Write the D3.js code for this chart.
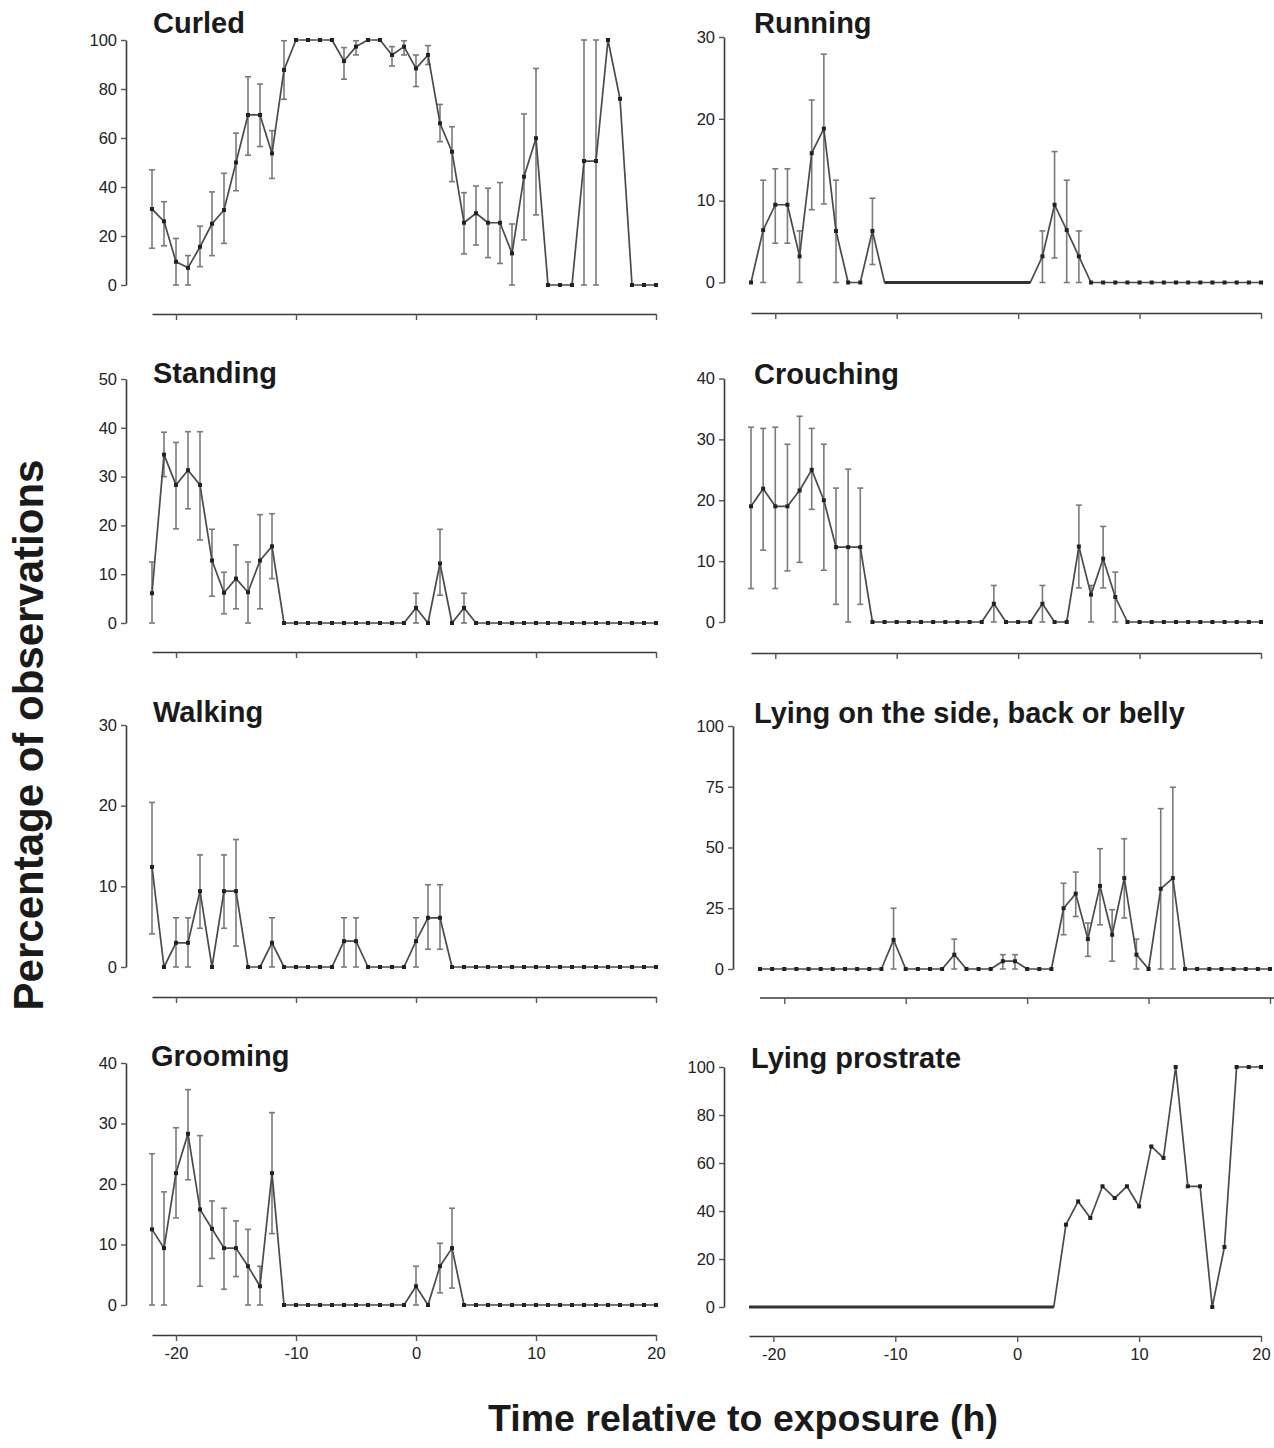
<!DOCTYPE html>
<html><head><meta charset="utf-8">
<script src="https://cdn.jsdelivr.net/npm/d3@7"></script>
<style>body{margin:0;background:#fff} svg{display:block}</style>
</head><body><svg id="c" width="1274" height="1448"></svg>
<script>
// ---- data ----
const hours = [-22,-21,-20,-19,-18,-17,-16,-15,-14,-13,-12,-11,-10,-9,-8,-7,-6,-5,-4,-3,-2,-1,0,1,2,3,4,5,6,7,8,9,10,11,12,13,14,15,16,17,18,19,20];
const xTicks = [-20,-10,0,10,20];

const curledVals = [31,26,9.5,7,15.6,25,30.6,50,69.4,69.4,53.7,87.8,100,100,100,100,91.4,97.3,100,100,93.9,97.3,88.4,93.9,66,54.4,25.4,29.3,25.4,25.4,12.9,44.2,59.9,0,0,0,50.6,50.6,100,76,0,0,0];
const curledHi = [47,34,19,12,24,38,45.6,62,85,82,63,99.7,null,null,null,null,96.9,99.7,null,null,97.3,99.7,93.9,97.7,73.7,64.6,37.7,40.4,39.5,41.8,24.9,69.8,88.4,null,null,null,100,100,null,null,null,null,null];
const curledLo = [15,16,0,0,7.5,12,17,38.5,53,56.5,43.5,75.8,null,null,null,null,84,93.9,null,null,89.4,93.9,81,90,58.5,42.2,12.7,16.3,11.2,8.8,0,18.4,28.6,null,null,null,0,0,null,null,null,null,null];

const runningVals = [0,6.4,9.5,9.5,3.2,15.8,18.8,6.3,0,0,6.3,0,0,0,0,0,0,0,0,0,0,0,0,0,3.2,9.5,6.4,3.2,0,0,0,0,0,0,0,0,0,0,0,0,0,0,0];
const runningHi = [null,12.5,13.9,13.9,6.3,22.3,27.9,12.5,null,null,10.3,null,null,null,null,null,null,null,null,null,null,null,null,null,6.3,16,12.5,6.3,null,null,null,null,null,null,null,null,null,null,null,null,null,null,null];
const runningLo = [null,0,4.8,4.8,0,8.9,9.6,0,null,null,2.2,null,null,null,null,null,null,null,null,null,null,null,null,null,0,3,0,0,null,null,null,null,null,null,null,null,null,null,null,null,null,null,null];

const standingVals = [6.1,34.5,28.3,31.3,28.3,12.8,6.2,9.1,6.3,12.8,15.7,0,0,0,0,0,0,0,0,0,0,0,3.1,0,12.2,0,3.1,0,0,0,0,0,0,0,0,0,0,0,0,0,0,0,0];
const standingHi = [12.5,39.1,37,39.2,39.2,19.2,10.4,16,12.5,22.2,22.4,null,null,null,null,null,null,null,null,null,null,null,6.1,null,19.2,null,6.1,null,null,null,null,null,null,null,null,null,null,null,null,null,null,null,null];
const standingLo = [0,30,19.3,23.4,17,5.5,1.9,2.9,0,2.9,9.1,null,null,null,null,null,null,null,null,null,null,null,0,null,5.7,null,0,null,null,null,null,null,null,null,null,null,null,null,null,null,null,null,null];

const crouchingVals = [19,21.9,19,19,21.6,25,20,12.3,12.3,12.3,0,0,0,0,0,0,0,0,0,0,3,0,0,0,3,0,0,12.4,4.5,10.4,4.1,0,0,0,0,0,0,0,0,0,0,0,0];
const crouchingHi = [32,31.8,32,29.2,33.8,31.8,29.2,22,25.1,22,null,null,null,null,null,null,null,null,null,null,6,null,null,null,6,null,null,19.2,6,15.7,8.2,null,null,null,null,null,null,null,null,null,null,null,null];
const crouchingLo = [5.5,11.8,5.5,8.4,9.8,18.5,8.5,2.9,0,2.9,null,null,null,null,null,null,null,null,null,null,0,null,null,null,0,null,null,5.6,0,5.6,0,null,null,null,null,null,null,null,null,null,null,null,null];

const walkingVals = [12.4,0,3,3,9.4,0,9.4,9.4,0,0,3,0,0,0,0,0,3.2,3.2,0,0,0,0,3.2,6.1,6.1,0,0,0,0,0,0,0,0,0,0,0,0,0,0,0,0,0,0];
const walkingHi = [20.4,null,6.1,6.1,13.9,null,13.9,15.8,null,null,6.1,null,null,null,null,null,6.1,6.1,null,null,null,null,6.1,10.2,10.2,null,null,null,null,null,null,null,null,null,null,null,null,null,null,null,null,null,null];
const walkingLo = [4.1,null,0,0,4.8,null,4.8,2.6,null,null,0,null,null,null,null,null,0,0,null,null,null,null,0,2.2,2.2,null,null,null,null,null,null,null,null,null,null,null,null,null,null,null,null,null,null];

const lyingSideVals = [0,0,0,0,0,0,0,0,0,0,0,12,0,0,0,0,5.9,0,0,0,3.2,3.2,0,0,0,25,31,12.3,34.2,14.1,37.4,5.9,0,33,37.4,0,0,0,0,0,0,0,0];
const lyingSideHi = [null,null,null,null,null,null,null,null,null,null,null,25,null,null,null,null,12.3,null,null,null,5.9,5.9,null,null,null,35.3,39.9,18.9,49.5,24.4,53.6,12.3,null,66,74.8,null,null,null,null,null,null,null,null];
const lyingSideLo = [null,null,null,null,null,null,null,null,null,null,null,0,null,null,null,null,0,null,null,null,0,0,null,null,null,14.1,21.6,5.2,18.2,3.2,21,0,null,0,0,null,null,null,null,null,null,null,null];

const groomingVals = [12.5,9.4,21.8,28.3,15.8,12.6,9.4,9.4,6.4,3.1,21.8,0,0,0,0,0,0,0,0,0,0,0,3.1,0,6.4,9.4,0,0,0,0,0,0,0,0,0,0,0,0,0,0,0,0,0];
const groomingHi = [25,18.7,29.3,35.6,28,17.2,16,13.9,12.5,6.4,31.8,null,null,null,null,null,null,null,null,null,null,null,6.4,null,10.2,16,null,null,null,null,null,null,null,null,null,null,null,null,null,null,null,null,null];
const groomingLo = [0,0,14.4,20.7,3.1,7.7,2.6,4.7,0,0,11.8,null,null,null,null,null,null,null,null,null,null,null,0,null,2,2.8,null,null,null,null,null,null,null,null,null,null,null,null,null,null,null,null,null];

const prostrateVals = [0,0,0,0,0,0,0,0,0,0,0,0,0,0,0,0,0,0,0,0,0,0,0,0,0,0,34.3,44,37.1,50.3,45.4,50.3,41.9,66.9,62.1,100,50.3,50.3,0,25,100,100,100];

const titles = ["Curled","Running","Standing","Crouching","Walking","Lying on the side, back or belly","Grooming","Lying prostrate"];
const yTickSets = [[0,20,40,60,80,100],[0,10,20,30],[0,10,20,30,40,50],[0,10,20,30,40],[0,10,20,30],[0,25,50,75,100],[0,10,20,30,40],[0,20,40,60,80,100]];
const yLabel = "Percentage of observations";
const xLabel = "Time relative to exposure (h)";

// ---- layout ----
const L = {x0:152, x1:656, axisX:126};
const R = {x0:751, x1:1261, axisX:724};
const panels = [
  {vals:curledVals, hi:curledHi, lo:curledLo, ...L, y0:285, yTop:40, xLineY:314, tx:153, ty:33},
  {vals:runningVals, hi:runningHi, lo:runningLo, ...R, y0:282.5, yTop:37, xLineY:313, tx:754, ty:33, heavy:[-11,1]},
  {vals:standingVals, hi:standingHi, lo:standingLo, ...L, y0:623, yTop:379, xLineY:652, tx:153, ty:383},
  {vals:crouchingVals, hi:crouchingHi, lo:crouchingLo, ...R, y0:622, yTop:378.5, xLineY:653, tx:754, ty:384},
  {vals:walkingVals, hi:walkingHi, lo:walkingLo, ...L, y0:967, yTop:725, xLineY:997, tx:153, ty:722},
  {vals:lyingSideVals, hi:lyingSideHi, lo:lyingSideLo, x0:760, x1:1270, axisX:733, y0:969, yTop:726, xLineY:998, tx:754, ty:723, lineEnd:1274},
  {vals:groomingVals, hi:groomingHi, lo:groomingLo, ...L, y0:1305, yTop:1063, xLineY:1335, tx:151, ty:1066, showX:true},
  {vals:prostrateVals, hi:null, lo:null, ...R, x0:749, y0:1307, yTop:1067, xLineY:1336, tx:751, ty:1068, showX:true, heavy:[-22,3]}
];

const svg = d3.select('#c');
const FONT = "'Liberation Sans', Arial, Helvetica, sans-serif";

panels.forEach((p, k) => {
  const yMax = d3.max(yTickSets[k]);
  const x = d3.scaleLinear().domain([-22,20]).range([p.x0,p.x1]);
  const y = d3.scaleLinear().domain([0,yMax]).range([p.y0,p.yTop]);
  const g = svg.append('g');

  const ya = g.append('g').attr('transform',`translate(${p.axisX},0)`)
    .call(d3.axisLeft(y).tickValues(yTickSets[k]).tickSize(5).tickSizeOuter(0).tickPadding(4).tickFormat(d=>String(d)));
  const xa = g.append('g').attr('transform',`translate(0,${p.xLineY})`)
    .call(d3.axisBottom(x).tickValues(xTicks).tickSize(6).tickSizeOuter(0).tickPadding(6)
      .tickFormat(d => p.showX ? String(d) : ''));
  if (p.lineEnd) xa.select('.domain').attr('d', `M${p.x0},0H${p.lineEnd}`);
  [ya, xa].forEach(a => {
    a.select('.domain').attr('stroke','#3a3a3a').attr('stroke-width',1.6);
    a.selectAll('.tick line').attr('stroke','#555').attr('stroke-width',1.4);
    a.selectAll('.tick text').attr('fill','#222').style('font-family',FONT).style('font-size','16.5px');
  });

  const pts = hours.map((t,i) => ({t, v:p.vals[i], hi:p.hi?p.hi[i]:null, lo:p.lo?p.lo[i]:null}));

  const eb = g.append('g').attr('stroke','#7a7a7a').attr('stroke-width',1.6).attr('fill','none');
  pts.filter(d => d.hi !== null).forEach(d => {
    const cx = x(d.t);
    eb.append('line').attr('x1',cx).attr('x2',cx).attr('y1',y(d.lo)).attr('y2',y(d.hi));
    eb.append('line').attr('x1',cx-3).attr('x2',cx+3).attr('y1',y(d.hi)).attr('y2',y(d.hi));
    eb.append('line').attr('x1',cx-3).attr('x2',cx+3).attr('y1',y(d.lo)).attr('y2',y(d.lo));
  });

  const line = d3.line().x(d=>x(d.t)).y(d=>y(d.v));
  g.append('path').datum(pts).attr('d',line).attr('fill','none').attr('stroke','#4a4a4a').attr('stroke-width',1.7).attr('stroke-linejoin','round');

  if (p.heavy) {
    const seg = pts.filter(d => d.t >= p.heavy[0] && d.t <= p.heavy[1]);
    g.append('path').datum(seg).attr('d',line).attr('fill','none').attr('stroke','#333').attr('stroke-width',3.2);
  }

  g.append('g').selectAll('rect').data(pts.filter(d => !(p.heavy && d.t >= p.heavy[0] && d.t <= p.heavy[1])))
    .join('rect').attr('x',d=>x(d.t)-2).attr('y',d=>y(d.v)-2).attr('width',4).attr('height',4).attr('fill','#222');

  svg.append('text').attr('x',p.tx).attr('y',p.ty).text(titles[k])
    .style('font-family',FONT).style('font-weight','bold').style('font-size','29px').attr('fill','#1a1a1a');
});

svg.append('text').attr('transform','translate(43,735) rotate(-90)').attr('text-anchor','middle')
  .text(yLabel).style('font-family',FONT).style('font-weight','bold').style('font-size','42px').attr('fill','#1a1a1a');
svg.append('text').attr('x',743).attr('y',1431).attr('text-anchor','middle')
  .text(xLabel).style('font-family',FONT).style('font-weight','bold').style('font-size','37.5px').attr('fill','#1a1a1a');
</script></body></html>
